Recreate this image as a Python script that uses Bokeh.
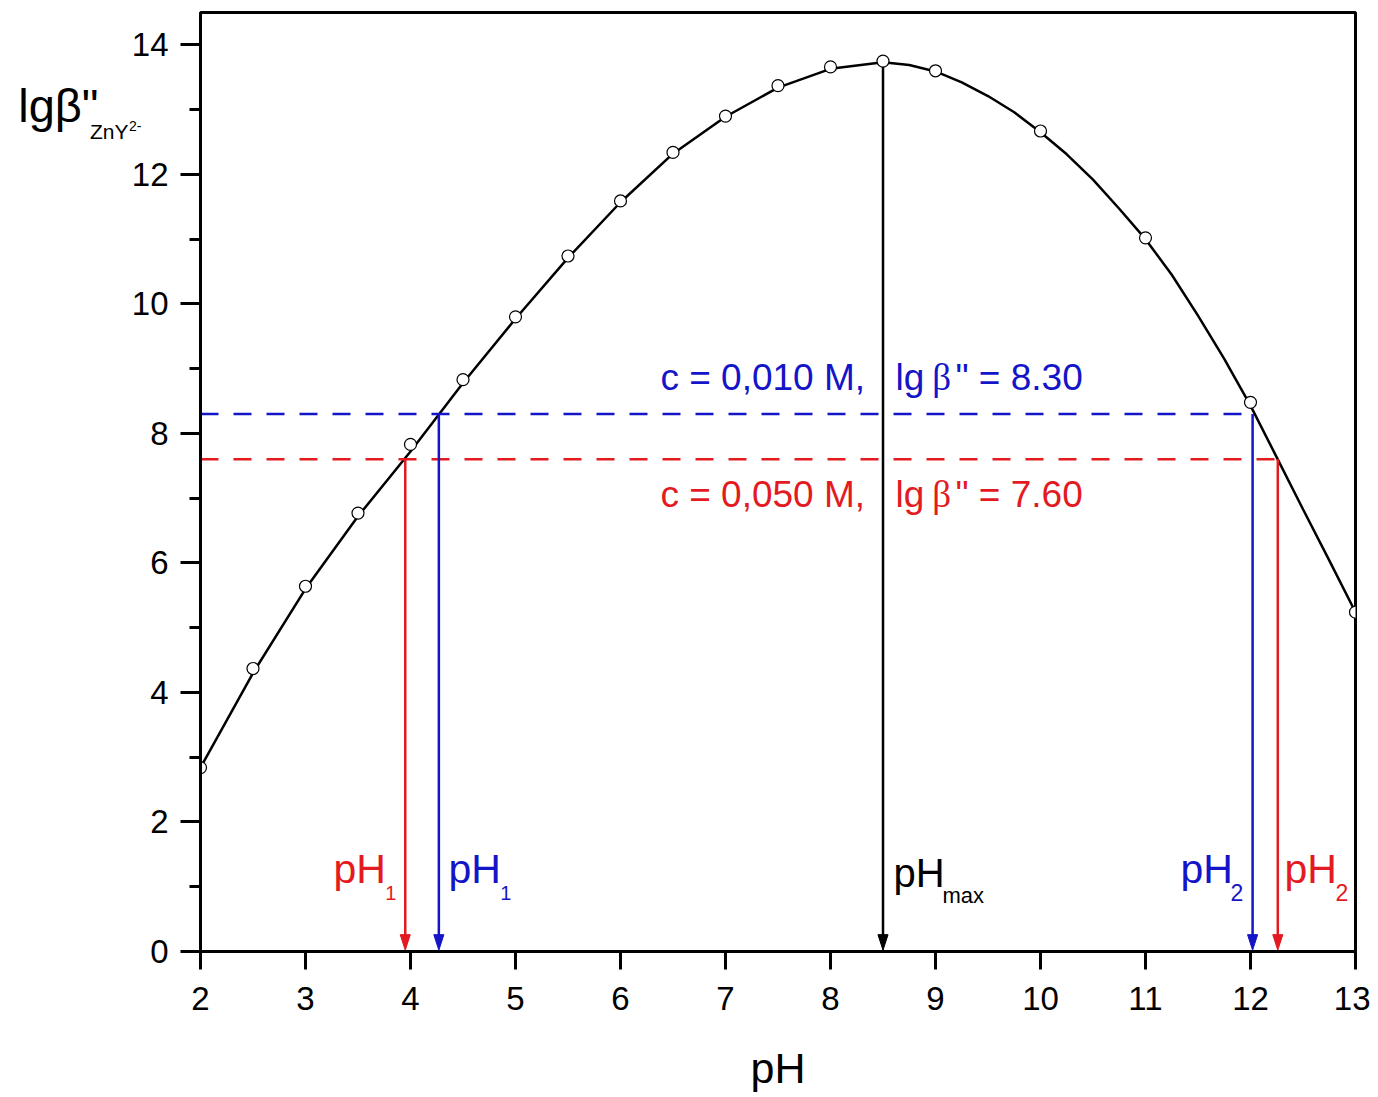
from bokeh.plotting import figure
from bokeh.models import Label, Range1d, FixedTicker, LinearAxis
from bokeh.embed import file_html
from bokeh.resources import INLINE

# ---------------- data ----------------
ph_points = [2.0, 2.5, 3.0, 3.5, 4.0, 4.5, 5.0, 5.5, 6.0, 6.5, 7.0, 7.5, 8.0, 8.5, 9.0, 10.0, 11.0, 12.0, 13.0]
lgb_points = [2.84, 4.37, 5.64, 6.77, 7.83, 8.83, 9.80, 10.74, 11.59, 12.34, 12.90, 13.37, 13.66, 13.75, 13.60, 12.67, 11.02, 8.48, 5.24]

# the fitted curve
curve_ph = [2.0, 2.5, 3.0, 3.5, 4.0, 4.5, 5.0, 5.5, 6.0, 6.5, 7.0, 7.5, 8.0, 8.5,
            8.75, 9.0, 9.25, 9.5, 9.75, 10.0, 10.25, 10.5, 10.75, 11.0,
            11.25, 11.5, 11.75, 12.0, 12.25, 12.5, 12.75, 13.0]
curve_lgb = [2.84, 4.30, 5.60, 6.72, 7.72, 8.78, 9.77, 10.71, 11.57, 12.32, 12.89, 13.34, 13.63, 13.73,
             13.69, 13.59, 13.42, 13.21, 12.96, 12.65, 12.31, 11.92, 11.47, 11.00,
             10.45, 9.82, 9.15, 8.43, 7.63, 6.83, 6.04, 5.24]

lgb_blue = 8.30   # c = 0,010 M
lgb_red = 7.60    # c = 0,050 M
ph1_blue, ph2_blue = 4.27, 12.02
ph1_red, ph2_red = 3.95, 12.26
ph_max, lgb_max = 8.5, 13.75

x_ticks = [2, 3, 4, 5, 6, 7, 8, 9, 10, 11, 12, 13]
y_ticks = [0, 2, 4, 6, 8, 10, 12, 14]
y_minor = [1, 3, 5, 7, 9, 11, 13]

RED = "#E31A1F"
BLUE = "#1414C8"
FONT = "Liberation Sans"
SERIF = "Liberation Serif"

p = figure(width=1370, height=1095, x_range=Range1d(2, 13), y_range=Range1d(0, 14.5),
           output_backend="svg", toolbar_location=None,
           min_border_left=200, min_border_right=15, min_border_top=12, min_border_bottom=144)
p.grid.visible = False
p.outline_line_color = "black"
p.outline_line_width = 3
p.background_fill_color = "white"
p.border_fill_color = "white"

for ax in (p.xaxis[0], p.yaxis[0]):
    ax.axis_line_width = 3
    ax.major_tick_line_width = 3
    ax.minor_tick_line_width = 3
    ax.major_tick_in = 0
    ax.minor_tick_in = 0
    ax.major_label_text_font = FONT
    ax.major_label_text_font_size = "33px"
    ax.major_label_text_color = "black"

p.xaxis.ticker = FixedTicker(ticks=x_ticks, minor_ticks=[])
p.xaxis.major_tick_out = 18
p.xaxis.major_label_standoff = 17
p.xaxis.axis_label = "pH"
p.xaxis.axis_label_text_font = FONT
p.xaxis.axis_label_text_font_style = "normal"
p.xaxis.axis_label_text_font_size = "43px"
p.xaxis.axis_label_text_color = "black"
p.xaxis.axis_label_standoff = 31

p.yaxis.ticker = FixedTicker(ticks=y_ticks, minor_ticks=y_minor)
p.yaxis.major_tick_out = 20
p.yaxis.minor_tick_out = 11
p.yaxis.major_label_standoff = 12


# y-axis title "lgβ''_ZnY^2-": placed with invisible extra left axes whose single
# tick label carries each piece of the title (labels outside the frame are clipped)
def title_piece(y, text, size, standoff):
    ax = LinearAxis(ticker=FixedTicker(ticks=[y], minor_ticks=[]),
                    major_label_overrides={y: text},
                    axis_line_color=None, major_tick_line_color=None, minor_tick_line_color=None,
                    major_tick_out=0, major_tick_in=0, minor_tick_out=0, minor_tick_in=0,
                    major_label_standoff=standoff,
                    major_label_text_font=FONT, major_label_text_font_size=size,
                    major_label_text_color="black")
    p.add_layout(ax, "left")


title_piece(12.66, "ZnY", "21px", 0)
title_piece(13.07, "lg\u03b2\"", "47px", -12)
title_piece(12.74, "2-", "14px", -126)

# fitted curve
p.line(curve_ph, curve_lgb, line_color="black", line_width=2.5)

# dashed horizontal levels
p.segment(x0=[2, 2], y0=[lgb_blue, lgb_red], x1=[ph2_blue, ph2_red], y1=[lgb_blue, lgb_red],
          line_color=[BLUE, RED], line_width=2.5, line_dash="18 15")

# vertical arrows
arr_x = [ph1_red, ph1_blue, ph_max, ph2_blue, ph2_red]
arr_top = [lgb_red, lgb_blue, lgb_max, lgb_blue, lgb_red]
arr_col = [RED, BLUE, "black", BLUE, RED]
hw, hl = 0.048, 0.26
p.segment(x0=arr_x, y0=arr_top, x1=arr_x, y1=[hl * 0.5] * len(arr_x),
          line_color=arr_col, line_width=2.5)
head_xs = [[x - hw, x + hw, x] for x in arr_x]
head_ys = [[hl, hl, 0.02] for _ in arr_x]
p.patches(head_xs, head_ys, fill_color=arr_col, line_color=arr_col, line_width=1)

# data points (open circles)
p.scatter(ph_points, lgb_points, marker="circle", size=12, fill_color="white",
          line_color="black", line_width=1.2)


def lab(x, y, text, size, color="black", font=FONT):
    p.add_layout(Label(x=x, y=y, text=text, text_font=font, text_font_size=size,
                       text_color=color, text_baseline="middle", text_align="left"))


# concentration labels
lab(6.38, 8.87, "c = 0,010 M,", "37px", BLUE)
lab(8.62, 8.87, "lg", "37px", BLUE)
lab(8.97, 8.87, "\u03b2", "37px", BLUE, SERIF)
lab(9.19, 8.87, "\" = 8.30", "37px", BLUE)
lab(6.38, 7.06, "c = 0,050 M,", "37px", RED)
lab(8.62, 7.06, "lg", "37px", RED)
lab(8.97, 7.06, "\u03b2", "37px", RED, SERIF)
lab(9.19, 7.06, "\" = 7.60", "37px", RED)

# pH labels with subscripts
lab(3.267, 1.27, "pH", "41px", RED)
lab(3.76, 0.90, "1", "20px", RED)
lab(4.362, 1.27, "pH", "41px", BLUE)
lab(4.855, 0.90, "1", "20px", BLUE)
lab(8.60, 1.21, "pH", "40px", "black")
lab(9.067, 0.87, "max", "22px", "black")
lab(11.333, 1.27, "pH", "41px", BLUE)
lab(11.81, 0.91, "2", "23px", BLUE)
lab(12.324, 1.27, "pH", "41px", RED)
lab(12.81, 0.91, "2", "23px", RED)

open("out.html", "w").write(file_html(p, INLINE))
